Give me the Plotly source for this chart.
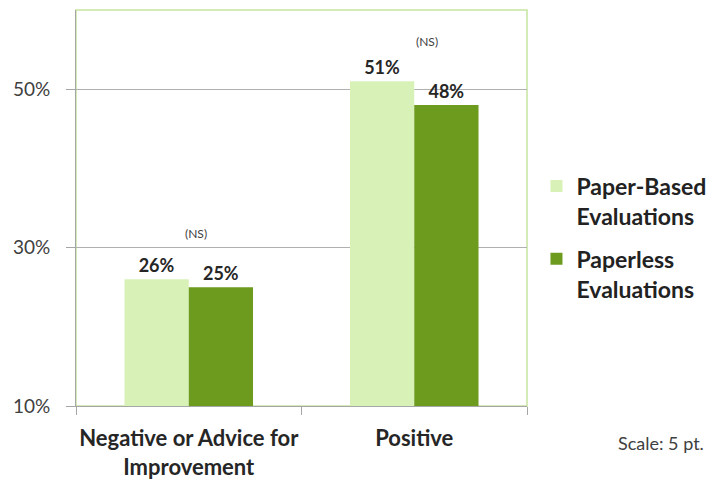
import plotly.graph_objects as go

categories = ["Negative or Advice for<br>Improvement", "Positive"]
series_names = ["Paper-Based<br>Evaluations", "Paperless<br>Evaluations"]
paper_based = [26, 51]
paperless = [25, 48]
value_labels_paper = ["26%", "51%"]
value_labels_paperless = ["25%", "48%"]
ns_labels = ["(NS)", "(NS)"]
y_ticks = [10, 30, 50]
y_tick_text = ["10%", "30%", "50%"]

LIGHT = "#D8F1B7"
DARK = "#6C9B1E"
FONT = "Lato"

fig = go.Figure()
fig.add_trace(go.Bar(
    x=categories, y=paper_based, name=series_names[0], legendgroup="a",
    marker=dict(color=LIGHT, line=dict(width=0)),
    text=value_labels_paper, textposition="outside",
    textfont=dict(family=FONT, size=18, color="#262626", weight="bold"),
    cliponaxis=False,
))
fig.add_trace(go.Bar(
    x=categories, y=paperless, name=series_names[1], legendgroup="b",
    marker=dict(color=DARK, line=dict(width=0)),
    text=value_labels_paperless, textposition="outside",
    textfont=dict(family=FONT, size=18, color="#262626", weight="bold"),
    cliponaxis=False,
))

ns_xshift = [7, 13]
ns_yshift = [46, 40]
for cat, a, b, lab, xs, ys in zip(categories, paper_based, paperless, ns_labels, ns_xshift, ns_yshift):
    fig.add_annotation(
        x=cat, y=max(a, b), text=lab, showarrow=False,
        xshift=xs, yshift=ys, yanchor="middle",
        font=dict(family=FONT, size=12, color="#404040"),
    )

# plot border (light green top/right)
fig.add_shape(type="rect", xref="paper", yref="paper", x0=0, x1=1, y0=0, y1=1,
              line=dict(color="#C6E3A0", width=1.5), layer="below")

fig.add_annotation(
    xref="paper", yref="paper", x=1.397, y=-0.094, xanchor="right", yanchor="middle",
    text="Scale: 5 pt.", showarrow=False,
    font=dict(family=FONT, size=18, color="#404040"),
)

fig.update_layout(
    width=708, height=473,
    margin=dict(l=68, r=189, t=2, b=75, autoexpand=False),
    paper_bgcolor="white", plot_bgcolor="white",
    barmode="group", bargap=0.43, bargroupgap=0,
    font=dict(family=FONT, color="#262626"),
    showlegend=True,
    legend=dict(
        x=1.021, y=0.61, xanchor="left", yanchor="top", valign="top",
        font=dict(family=FONT, size=23, color="#222222", weight="bold"),
        itemwidth=30, tracegroupgap=10, bgcolor="rgba(0,0,0,0)",
    ),
    xaxis=dict(
        showline=True, linecolor="#A6A6A6", linewidth=1,
        ticks="outside", tickson="boundaries", ticklen=8, tickcolor="#A6A6A6",
        tickfont=dict(family=FONT, size=22, color="#262626", weight="bold"),
        ticklabelstandoff=13, tickangle=0, automargin=False,
        showgrid=False,
    ),
    yaxis=dict(
        range=[10, 60], tickvals=y_ticks, ticktext=y_tick_text,
        showline=True, linecolor="#A6A6A6", linewidth=1,
        ticks="outside", ticklen=9, tickcolor="#A6A6A6",
        tickfont=dict(family=FONT, size=19, color="#404040"),
        ticklabelstandoff=12, automargin=False,
        showgrid=True, gridcolor="#B0B0B0", gridwidth=1,
        zeroline=False,
    ),
)

fig.write_html("out.html")
